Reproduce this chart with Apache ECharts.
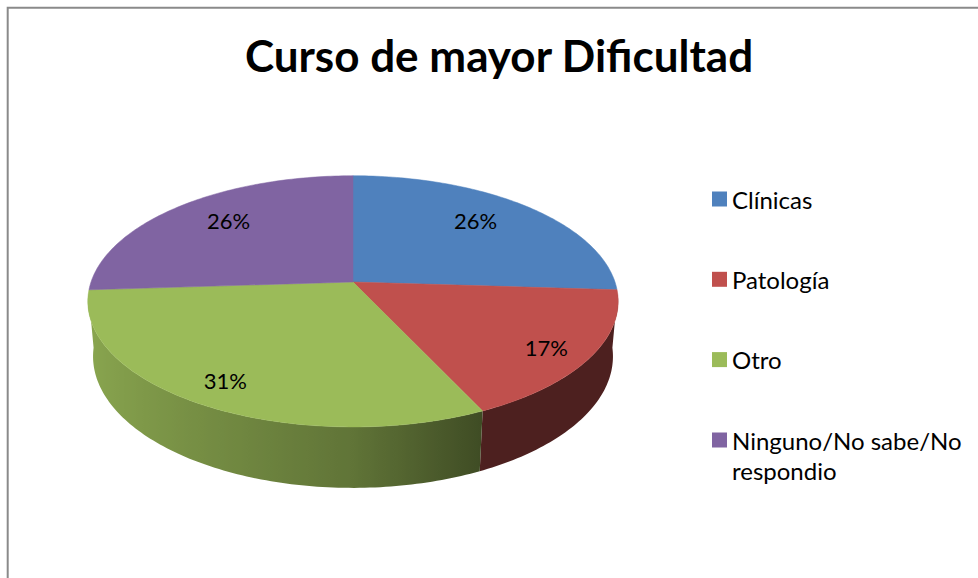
<!DOCTYPE html>
<html><head><meta charset="utf-8">
<script src="https://cdn.jsdelivr.net/npm/echarts@6/dist/echarts.min.js"></script>
<style>html,body{margin:0;padding:0;background:#fff}#c{width:978px;height:578px}</style>
</head><body><div id="c"></div>
<script>
// ---- data ----
const chartTitle = 'Curso de mayor Dificultad';
const categories = ['Clínicas', 'Patología', 'Otro', 'Ninguno/No sabe/No respondio'];
const values = [26, 17, 31, 26];
const colors = ['#4F81BD', '#C0504D', '#9BBB59', '#8064A2'];

// ---- 3D pie look (layout/style only) ----
const P = {cx: 353, cy: 282, k: 262, sa: 0.468, ca: 0.884, D: 5.74, h: 0.24};
const labelR = [0.7, 0.82, 0.85, 0.7];
const labelShift = [[-2, -7], [2, 5], [0, -3], [0, -7]];
const total = values.reduce((a, b) => a + b, 0);
const starts = [];
values.reduce((acc, v, i) => { starts[i] = acc / total * 360; return acc + v; }, 0);

function proj(X, Y, Z) {
  const yv = Y * P.ca - Z * P.sa;
  const zv = Y * P.sa + Z * P.ca;
  const s = 1 / (1 - zv / P.D);
  return [P.cx + P.k * X * s, P.cy - P.k * yv * s];
}
function rim(deg, r, Y) {
  const p = deg * Math.PI / 180;
  return proj(r * Math.sin(p), Y, -r * Math.cos(p));
}
function shade(deg) {
  const s = Math.sin(deg * Math.PI / 180);
  return s < 0 ? 0.62 + 0.27 * (-s) : Math.max(0.40, 0.62 - 0.5 * s);
}
function scaleColor(hex, f) {
  const n = parseInt(hex.slice(1), 16);
  const r = Math.round(((n >> 16) & 255) * f), g = Math.round(((n >> 8) & 255) * f), b = Math.round((n & 255) * f);
  return 'rgb(' + r + ',' + g + ',' + b + ')';
}

const sliceData = values.map((v, i) => ({name: categories[i], value: v}));
const lastName = categories[categories.length - 1];
// square icon sitting beside the first of two text lines
const iconFirstLine = 'path://M0,0h0.01v0.01h-0.01z M0,7.5h15v15h-15z M0,59.99h0.01v0.01h-0.01z';

const chart = echarts.init(document.getElementById('c'), null, {renderer: 'svg'});
chart.setOption({
  animation: false,
  backgroundColor: '#fff',
  title: {
    text: chartTitle, left: 499, top: 33, textAlign: 'center', padding: 0,
    textStyle: {fontFamily: 'Lato', fontWeight: 'bold', fontSize: 44, color: '#000'}
  },
  legend: [
    {
      orient: 'vertical', left: 712, top: 184, padding: 0,
      itemWidth: 15, itemHeight: 15, itemGap: 50.3, selectedMode: false, icon: 'rect',
      data: categories.slice(0, categories.length - 1),
      textStyle: {fontFamily: 'Lato', fontSize: 24, color: '#000', lineHeight: 30},
      itemStyle: {borderWidth: 0}
    },
    {
      orient: 'vertical', left: 712, top: 425, padding: 0,
      itemWidth: 15, itemHeight: 60, selectedMode: false,
      data: [{name: lastName, icon: iconFirstLine}],
      formatter: n => {
        const cut = n.lastIndexOf(' ');
        return n.slice(0, cut) + '\n' + n.slice(cut + 1);
      },
      textStyle: {fontFamily: 'Lato', fontSize: 24, color: '#000', lineHeight: 30},
      itemStyle: {borderWidth: 0}
    }
  ],
  graphic: [{
    type: 'rect', shape: {x: 7.7, y: 7.7, width: 1200, height: 800},
    style: {fill: 'none', stroke: '#8a8a8a', lineWidth: 2}, silent: true, z: -10
  }],
  series: [
    {
      type: 'pie', radius: [0, 0], center: [-50, -50], silent: true,
      label: {show: false}, labelLine: {show: false},
      data: categories.map((c, i) => ({name: c, value: values[i], itemStyle: {color: colors[i]}}))
    },
    {
      type: 'custom', coordinateSystem: 'none', z: 2, silent: true,
      data: sliceData,
      renderItem: function (params, api) {
        const i = params.dataIndex;
        const a0 = starts[i], a1 = starts[i] + api.value(0) / total * 360;
        const lo = Math.max(a0, 95), hi = Math.min(a1, 265);
        if (hi <= lo) return {type: 'group', children: []};
        const top = [], bot = [], samples = [];
        for (let a = lo; ; a += 1) {
          const t = Math.min(a, hi);
          top.push(rim(t, 1, 0));
          bot.push(rim(t, 1, -P.h));
          samples.push(t);
          if (t >= hi) break;
        }
        const pts = top.concat(bot.slice().reverse());
        let minX = Infinity, maxX = -Infinity;
        pts.forEach(p => { minX = Math.min(minX, p[0]); maxX = Math.max(maxX, p[0]); });
        const stops = samples.map((t, j) => ({
          offset: Math.min(1, Math.max(0, ((top[j][0] + bot[j][0]) / 2 - minX) / (maxX - minX))),
          color: scaleColor(colors[i], shade(t))
        })).sort((p, q) => p.offset - q.offset);
        return {type: 'group', children: [{
          type: 'polygon', shape: {points: pts},
          style: {fill: {type: 'linear', x: 0, y: 0, x2: 1, y2: 0, colorStops: stops}}
        }]};
      }
    },
    {
      type: 'custom', coordinateSystem: 'none', z: 3, silent: true,
      data: sliceData,
      renderItem: function (params, api) {
        const i = params.dataIndex;
        const v = api.value(0);
        const a0 = starts[i], a1 = starts[i] + v / total * 360;
        const pts = [proj(0, 0, 0)];
        for (let a = a0; a < a1; a += 1) pts.push(rim(a, 1, 0));
        pts.push(rim(a1, 1, 0));
        const lp = rim((a0 + a1) / 2, labelR[i], 0);
        return {type: 'group', children: [
          {type: 'polygon', shape: {points: pts}, style: {fill: colors[i], stroke: colors[i], lineWidth: 0.5}},
          {type: 'text', x: lp[0] + labelShift[i][0], y: lp[1] + labelShift[i][1], z2: 10,
           style: {text: Math.round(v / total * 100) + '%', fill: '#000', font: '22px Lato', align: 'center', verticalAlign: 'middle'}}
        ]};
      }
    }
  ]
});
</script>
</body></html>
